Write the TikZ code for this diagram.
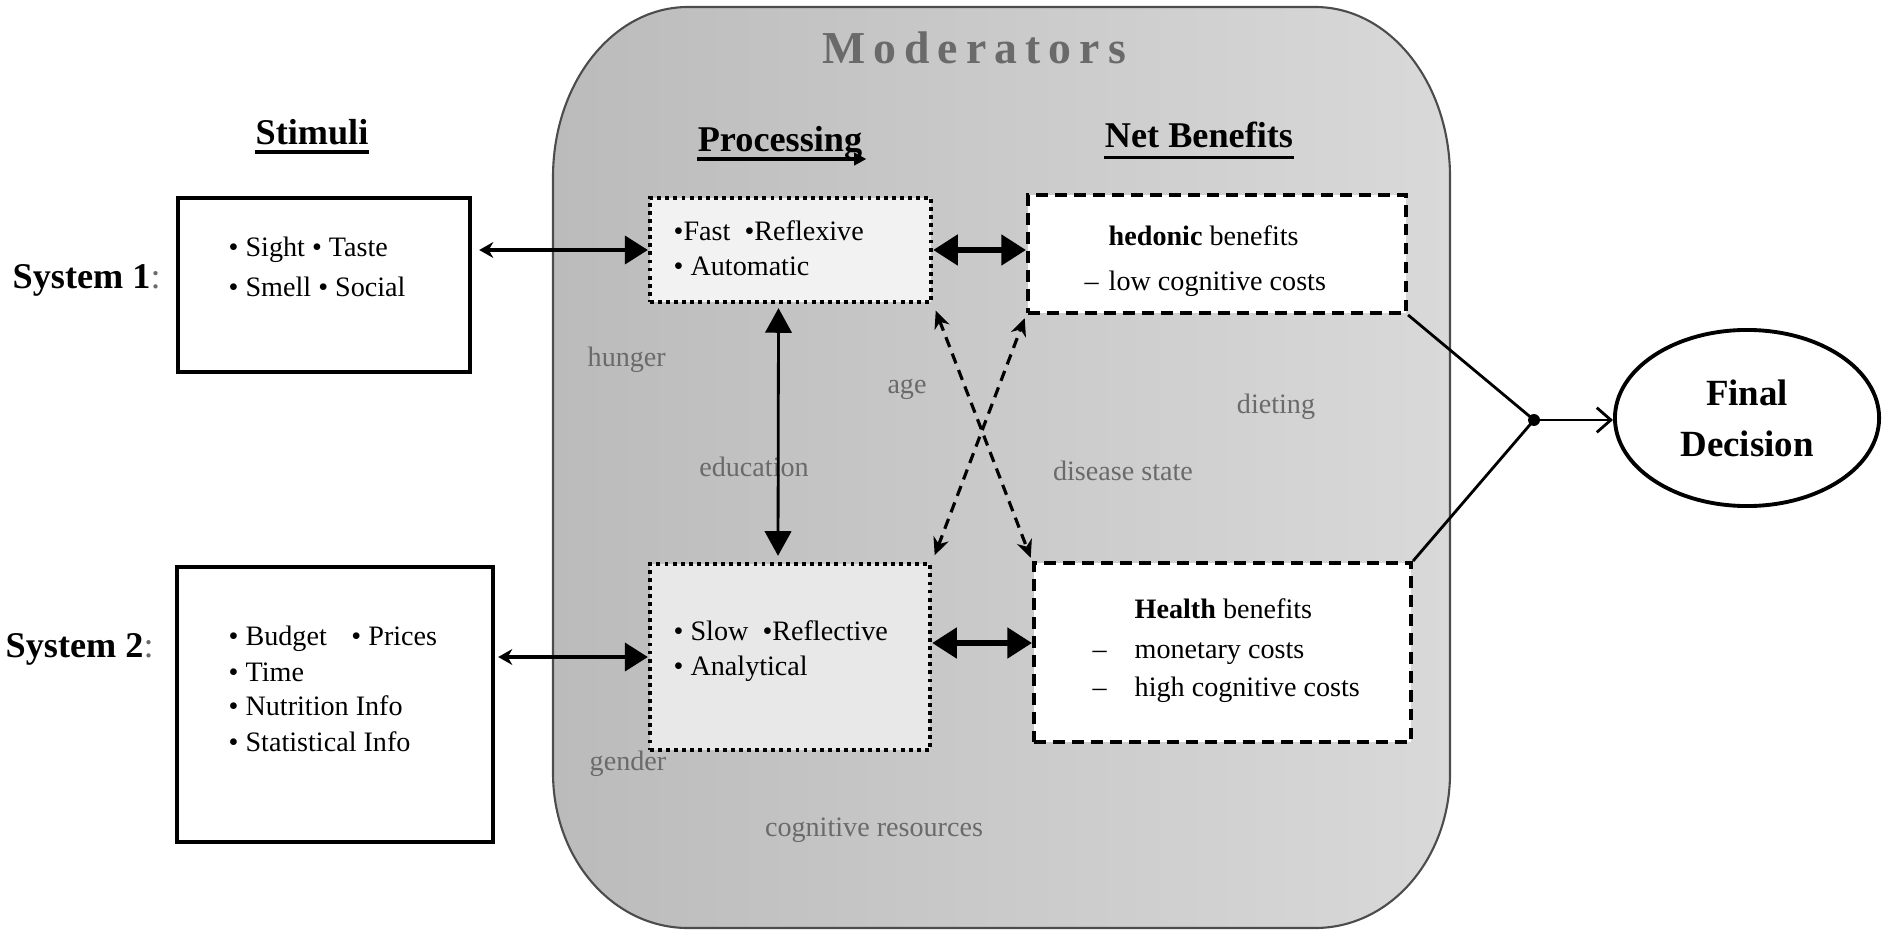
\documentclass[tikz,border=0pt]{standalone}
\usepackage{fontspec}
\setmainfont{Liberation Serif}
\usetikzlibrary{arrows.meta,shapes.geometric,calc}
\definecolor{modL}{HTML}{BBBBBB}
\definecolor{modR}{HTML}{D9D9D9}
\definecolor{lblc}{HTML}{6A6A6A}
\definecolor{pOne}{HTML}{F2F2F2}
\definecolor{pTwo}{HTML}{E8E8E8}
\newcommand\lspc{\kern2.3pt}
\begin{document}
\begin{tikzpicture}[x=0.01cm,y=-0.01cm,
  stimbox/.style={draw,line width=1.2pt,fill=white,inner sep=0pt},
  procbox/.style={draw,line width=1.2pt,dash pattern=on 1.1pt off 1.2pt,inner sep=0pt},
  nbbox/.style={draw,line width=1.1pt,dash pattern=on 3.4pt off 2pt,fill=white,inner sep=0pt},
  body/.style={inner sep=0pt,anchor=west,font=\fontsize{8}{9.6}\selectfont,text height=1.5ex,text depth=0.45ex},
  modlbl/.style={body,text=lblc},
  head/.style={inner sep=0pt,anchor=base,font=\fontsize{10.3}{12}\selectfont\bfseries},
  ulin/.style={line width=0.9pt},
  thinarrow/.style={line width=0.9pt,{Stealth[length=4pt,width=4.5pt]}-{Triangle[length=6.5pt,width=8pt]}},
  thickarrow/.style={line width=1.5pt,{Triangle[length=7pt,width=8.5pt]}-{Triangle[length=7pt,width=8.5pt]}},
  vertarrow/.style={line width=0.8pt,{Triangle[length=7pt,width=7.5pt]}-{Triangle[length=7pt,width=7.5pt]}},
  dline/.style={line width=0.9pt,dash pattern=on 3pt off 2pt,{Stealth[length=5pt,width=4.5pt]}-{Stealth[length=5pt,width=4.5pt]}},
  joinline/.style={line width=0.8pt}
]
\useasboundingbox (0,0) rectangle (1883,937);

% moderators region
\path[draw=black!70,line width=0.6pt,left color=modL,right color=modR]
 (553,177) .. controls (553,83) and (613,7) .. (688,7) -- (1315,7)
 .. controls (1390,7) and (1450,83) .. (1450,177) -- (1450,773)
 .. controls (1450,859) and (1390,928) .. (1315,928) -- (688,928)
 .. controls (613,928) and (553,859) .. (553,773) -- cycle;

\node[font=\fontsize{13}{15}\selectfont\bfseries,text=lblc,inner sep=0pt] (modh) at (974,48)
  {M\lspc o\lspc d\lspc e\lspc r\lspc a\lspc t\lspc o\lspc r\lspc s};

% headings
\node[head] (stimh) at (312,145) {Stimuli};
\draw[ulin] ([yshift=-2pt]stimh.base west) -- ([yshift=-2pt]stimh.base east);
\node[head] (proch) at (780,152) {Processing};
\draw[ulin,-{Triangle[length=3.5pt,width=3.5pt]}] ([yshift=-2pt]proch.base west) -- ([yshift=-2pt,xshift=1pt]proch.base east);
\node[head] (nbh) at (1199,148) {Net Benefits};
\draw[ulin] ([yshift=-2.6pt]nbh.base west) -- ([yshift=-2.6pt]nbh.base east);

\node[head,anchor=base west] (s1) at (12,288) {System 1{\mdseries\color{lblc}:}};
\node[head,anchor=base west] (s2) at (5,657) {System 2{\mdseries\color{lblc}:}};

% boxes
\node[stimbox,minimum width=2.92cm,minimum height=1.74cm] (stim1) at (324,285) {};
\node[stimbox,minimum width=3.16cm,minimum height=2.75cm] (stim2) at (335,704.5) {};
\node[procbox,fill=pOne,minimum width=2.81cm,minimum height=1.04cm] (p1) at (790.5,250) {};
\node[procbox,fill=pTwo,minimum width=2.80cm,minimum height=1.86cm] (p2) at (790,657) {};
\node[nbbox,minimum width=3.78cm,minimum height=1.18cm] (nb1) at (1217,254) {};
\node[nbbox,minimum width=3.77cm,minimum height=1.79cm] (nb2) at (1222.5,652.5) {};

% moderator labels
\node[modlbl] (hunger) at (587,358) {hunger};
\node[modlbl,anchor=center] (age) at (907,385) {age};
\node[modlbl,anchor=center] (diet) at (1276,405) {dieting};
\node[modlbl,anchor=center] (edu) at (754,468) {education};
\node[modlbl,anchor=center] (dis) at (1123,472) {disease state};
\node[modlbl] (gender) at (589,762) {gender};
\node[modlbl,anchor=center] (cog) at (874,828) {cognitive resources};

% box texts
\node[body] (t1a) at (228,248) {• Sight • Taste};
\node[body] (t1b) at (228,288) {• Smell • Social};
\node[body] (t2a) at (228,637) {• Budget\hspace{5pt} • Prices};
\node[body] (t2b) at (228,673) {• Time};
\node[body] (t2c) at (228,707) {• Nutrition Info};
\node[body] (t2d) at (228,743) {• Statistical Info};
\node[body] (p1a) at (673,232) {•Fast\hspace{4pt}•Reflexive};
\node[body] (p1b) at (673,267) {• Automatic};
\node[body] (p2a) at (673,632) {• Slow\hspace{4pt}•Reflective};
\node[body] (p2b) at (673,667) {• Analytical};
\node[body] (n1a) at (1108,237) {\textbf{hedonic} benefits};
\node[body] (n1d) at (1084,282) {–};
\node[body] (n1b) at (1108,282) {low cognitive costs};
\node[body] (n2a) at (1134,610) {\textbf{Health} benefits};
\node[body] (n2d1) at (1092,650) {–};
\node[body] (n2b) at (1134,650) {monetary costs};
\node[body] (n2d2) at (1092,688) {–};
\node[body] (n2c) at (1134,688) {high cognitive costs};

% final decision
\node[ellipse,draw,line width=1.1pt,fill=white,minimum width=2.64cm,minimum height=1.76cm,inner sep=0pt,align=center,font=\fontsize{10.5}{14.5}\selectfont\bfseries] (fd) at (1747,418) {Final\\Decision};
\node[circle,fill,inner sep=0pt,minimum size=3.4pt] (jn) at (1534,420) {};

% connectors
\draw[thinarrow] ($(p1.west -| stim1.east)+(7,0)$) -- (p1.west);
\draw[thinarrow] ($(p2.west -| stim2.east)+(3,0)$) -- (p2.west);
\draw[thickarrow] (p1.east) -- (p1.east -| nb1.west);
\draw[thickarrow] ($(p2.east)+(0,-14)$) -- ($(p2.east -| nb2.west)+(0,-14)$);
\draw[vertarrow] ($(p1.south)+(-12,4)$) -- ($(p2.north)+(-12,-6)$);
\draw[dline,shorten <=2pt,shorten >=1pt] (p1.south east) -- (nb2.north west);
\draw[dline,shorten <=2pt,shorten >=1pt] (p2.north east) -- (nb1.south west);
\draw[joinline] (nb1.south east) -- (jn.center);
\draw[joinline] (nb2.north east) -- (jn.center);
\draw[joinline,-{Straight Barb[length=4pt,width=7pt]}] (jn.center) -- (jn.center -| fd.west);
\end{tikzpicture}
\end{document}
